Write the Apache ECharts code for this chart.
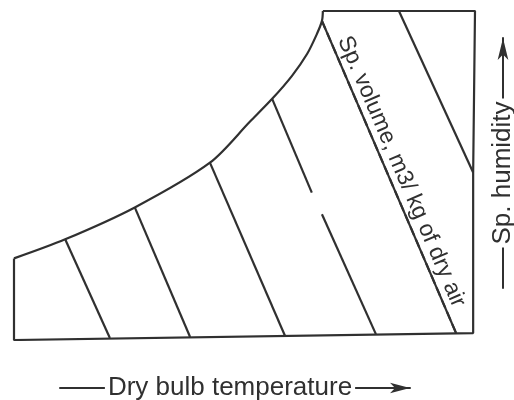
<!DOCTYPE html>
<html>
<head>
<meta charset="utf-8">
<style>
  html, body { margin: 0; padding: 0; background: #fff; }
  #chart { width: 514px; height: 400px; }
</style>
<script src="https://cdn.jsdelivr.net/npm/echarts@6/dist/echarts.min.js"></script>
</head>
<body>
<div id="chart"></div>
<script>
// Skeleton psychrometric chart: dry bulb temperature (x, % of range)
// against specific humidity (y, % of range).

// Saturation curve, left to right
const satCurveX = [0, 11.1, 26.2, 42.5, 51.2, 56.0, 60.3, 63.6, 65.7, 66.8, 67.0];
const satCurveY = [24.8, 30.6, 40.3, 53.9, 66.4, 73.3, 80.3, 87.0, 93.0, 97.0, 100];

// Chart boundary: top-left corner, top-right, right side, bottom, left side
const frameX = [67.0, 100, 99.6, 99.6, 0, 0];
const frameY = [100, 100, 50.9, 2.1, 0, 24.8];

// Lines of constant specific volume, each as [x1, y1, x2, y2] segments
const volumeLines = [
  [[11.1, 30.6, 20.8, 0.6]],
  [[26.2, 40.3, 38.2, 0.9]],
  [[42.5, 53.9, 58.8, 1.2]],
  [[56.0, 73.3, 64.6, 44.8], [66.8, 38.2, 78.5, 1.8]],
  [[66.8, 97.0, 95.9, 2.1]],
  [[83.5, 100, 99.6, 50.9]]
];
const labelledLine = 4;

const volumeLabel = 'Sp. volume, m3/ kg of dry air';
const xTitle = 'Dry bulb temperature';
const yTitle = 'Sp. humidity';

const ink = '#303030';
const font = '"Liberation Sans", Arial, Helvetica, sans-serif';

const zip = (xs, ys) => xs.map((x, i) => [x, ys[i]]);

const lineStyle = { color: ink, width: 2.2 };
const lineBase = {
  type: 'line',
  xAxisIndex: 0,
  yAxisIndex: 0,
  symbol: 'none',
  silent: true,
  animation: false,
  lineStyle: lineStyle,
  z: 3
};

const series = [];
series.push(Object.assign({}, lineBase, { data: zip(frameX, frameY) }));
series.push(Object.assign({}, lineBase, { data: zip(satCurveX, satCurveY), smooth: 0.3 }));

volumeLines.forEach((segs, i) => {
  segs.forEach(s => {
    const item = Object.assign({}, lineBase, { data: [[s[0], s[1]], [s[2], s[3]]] });
    if (i === labelledLine) {
      // the label runs along this line, just above it
      item.markLine = {
        silent: true,
        animation: false,
        symbol: ['none', 'none'],
        lineStyle: lineStyle,
        label: {
          show: true,
          position: 'insideMiddleTop',
          formatter: volumeLabel,
          fontFamily: font,
          fontSize: 23,
          color: ink,
          distance: 2
        },
        data: [[{ coord: [s[0], s[1]] }, { coord: [s[2], s[3]] }]]
      };
    }
    series.push(item);
  });
});

const hidden = { show: false };

// arrow-headed axis line (drawn underneath)
const arrowLine = (size) => ({
  axisLine: { show: true, symbol: ['none', 'arrow'], symbolSize: size, lineStyle: { color: ink, width: 2 } },
  axisTick: hidden, axisLabel: hidden, splitLine: hidden, z: 1
});
// title-only axis on top, its white box breaks the arrow line
const titleAxis = (text, spacer) => ({
  axisLine: hidden, axisTick: hidden, axisLabel: hidden, splitLine: hidden,
  name: '{t|' + text + '}{s| }',
  nameLocation: 'middle',
  nameGap: 0,
  z: 10,
  nameTextStyle: {
    verticalAlign: 'middle',
    rich: {
      t: { fontFamily: font, fontSize: 26, color: ink, backgroundColor: '#fff', padding: [0, 3] },
      s: { width: spacer, fontSize: 26 }
    }
  }
});

const option = {
  backgroundColor: '#fff',
  animation: false,
  grid: [
    { left: 14, top: 11, width: 461, height: 329, outerBoundsMode: 'none' },
    { left: 60, top: 387, width: 350, height: 1, outerBoundsMode: 'none' },
    { left: 503, top: 38, width: 1, height: 250, outerBoundsMode: 'none' }
  ],
  xAxis: [
    { type: 'value', gridIndex: 0, min: 0, max: 100, show: false },
    Object.assign({ type: 'value', gridIndex: 1, min: 0, max: 1, position: 'bottom' }, arrowLine([8, 20])),
    { type: 'value', gridIndex: 2, min: 0, max: 1, show: false },
    Object.assign({ type: 'value', gridIndex: 1, min: 0, max: 1, position: 'bottom' }, titleAxis(xTitle, 10))
  ],
  yAxis: [
    { type: 'value', gridIndex: 0, min: 0, max: 100, show: false },
    { type: 'value', gridIndex: 1, min: 0, max: 1, show: false },
    Object.assign({ type: 'value', gridIndex: 2, min: 0, max: 1, position: 'left' }, arrowLine([8, 22])),
    Object.assign({ type: 'value', gridIndex: 2, min: 0, max: 1, position: 'left' }, titleAxis(yTitle, 20))
  ],
  series: series
};

const chart = echarts.init(document.getElementById('chart'), null, { renderer: 'canvas' });
chart.setOption(option);
</script>
</body>
</html>
